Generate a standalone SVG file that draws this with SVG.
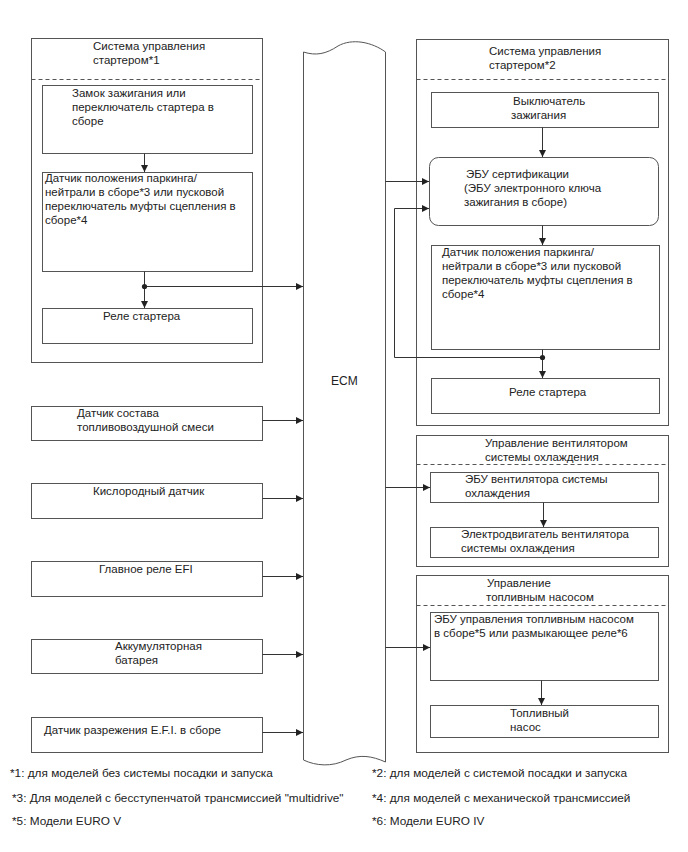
<svg xmlns="http://www.w3.org/2000/svg" width="688" height="852" viewBox="0 0 688 852">
<defs>
<marker id="ah" viewBox="0 0 10 10" refX="10" refY="5" markerWidth="8" markerHeight="7" markerUnits="userSpaceOnUse" orient="auto">
<path d="M0,0 L10,5 L0,10 Z" fill="#222"/>
</marker>
</defs>
<style>
text{font-family:"Liberation Sans",Arial,sans-serif;font-size:11.5px;fill:#222}
.b{fill:#fff;stroke:#555;stroke-width:1}
.d{stroke:#555;stroke-width:1;stroke-dasharray:4,3;fill:none}
.a{stroke:#333;stroke-width:1;fill:none;marker-end:url(#ah)}
.fn{font-size:11.8px}
</style>
<rect width="688" height="852" fill="#fff"/>

<g id="grp-starter1">
<rect class="b" x="31.5" y="38.5" width="231" height="324"/>
<line class="d" x1="31.5" y1="79.5" x2="262.5" y2="79.5"/>
<text x="93" y="50">Система управления</text>
<text x="93" y="64">стартером*1</text>
</g>
<g id="n-ignlock">
<rect class="b" x="42.5" y="85.5" width="210" height="68"/>
<text x="72" y="97">Замок зажигания или</text>
<text x="72" y="111">переключатель стартера в</text>
<text x="72" y="125">сборе</text>
</g>
<g id="n-pn1">
<rect class="b" x="42.5" y="172.5" width="210" height="99"/>
<text x="45" y="182">Датчик положения паркинга/</text>
<text x="45" y="196">нейтрали в сборе*3 или пусковой</text>
<text x="45" y="210">переключатель муфты сцепления в</text>
<text x="45" y="224">сборе*4</text>
</g>
<g id="n-relay1">
<rect class="b" x="42.5" y="308.5" width="210" height="35"/>
<text x="103" y="320">Реле стартера</text>
</g>

<g id="n-ecm">
<path class="b" d="M303.5,52 C316,56 326,54 338,46 C352,38 372,42 385.5,52 L385.5,762 C372,756 360,754 346,760 C332,767 316,766 303.5,760 Z"/>
<text x="331" y="385" style="font-size:12px">ECM</text>
</g>

<g id="n-afs">
<rect class="b" x="31.5" y="406.5" width="231" height="34"/>
<text x="77" y="417">Датчик состава</text>
<text x="77" y="431">топливовоздушной смеси</text>
</g>
<g id="n-o2">
<rect class="b" x="31.5" y="483.5" width="231" height="35"/>
<text x="93" y="495">Кислородный датчик</text>
</g>
<g id="n-efi">
<rect class="b" x="31.5" y="561.5" width="231" height="35"/>
<text x="99" y="573">Главное реле EFI</text>
</g>
<g id="n-batt">
<rect class="b" x="31.5" y="639.5" width="231" height="34"/>
<text x="115" y="650">Аккумуляторная</text>
<text x="115" y="664">батарея</text>
</g>
<g id="n-vac">
<rect class="b" x="31.5" y="717.5" width="231" height="35"/>
<text x="44" y="734">Датчик разрежения E.F.I. в сборе</text>
</g>

<g id="grp-starter2">
<rect class="b" x="416.5" y="39.5" width="252" height="386"/>
<line class="d" x1="416.5" y1="79.5" x2="668.5" y2="79.5"/>
<text x="489" y="55">Система управления</text>
<text x="489" y="69">стартером*2</text>
</g>
<g id="n-ignsw">
<rect class="b" x="431.5" y="92.5" width="227" height="35"/>
<text x="513" y="105">Выключатель</text>
<text x="511" y="119">зажигания</text>
</g>
<g id="n-certecu">
<rect class="b" x="429.5" y="157.5" width="229" height="68" rx="9"/>
<text x="466" y="178">ЭБУ сертификации</text>
<text x="464" y="192">(ЭБУ электронного ключа</text>
<text x="464" y="206">зажигания в сборе)</text>
</g>
<g id="n-pn2">
<rect class="b" x="431.5" y="245.5" width="228" height="104"/>
<text x="442" y="256">Датчик положения паркинга/</text>
<text x="442" y="270">нейтрали в сборе*3 или пусковой</text>
<text x="442" y="284">переключатель муфты сцепления в</text>
<text x="442" y="298">сборе*4</text>
</g>
<g id="n-relay2">
<rect class="b" x="431.5" y="378.5" width="228" height="35"/>
<text x="509" y="396">Реле стартера</text>
</g>

<g id="grp-fan">
<rect class="b" x="416.5" y="435.5" width="252" height="131"/>
<line class="d" x1="416.5" y1="464.5" x2="668.5" y2="464.5"/>
<text x="485" y="447">Управление вентилятором</text>
<text x="485" y="461">системы охлаждения</text>
</g>
<g id="n-fanecu">
<rect class="b" x="430.5" y="472.5" width="228" height="30"/>
<text x="465" y="483">ЭБУ вентилятора системы</text>
<text x="465" y="497">охлаждения</text>
</g>
<g id="n-fanmotor">
<rect class="b" x="430.5" y="527.5" width="228" height="30"/>
<text x="461" y="538">Электродвигатель вентилятора</text>
<text x="461" y="552">системы охлаждения</text>
</g>

<g id="grp-fuel">
<rect class="b" x="416.5" y="575.5" width="252" height="177"/>
<line class="d" x1="416.5" y1="605.5" x2="668.5" y2="605.5"/>
<text x="487" y="587">Управление</text>
<text x="486" y="601">топливным насосом</text>
</g>
<g id="n-fuelecu">
<rect class="b" x="430.5" y="612.5" width="228" height="68"/>
<text x="434" y="623">ЭБУ управления топливным насосом</text>
<text x="434" y="637">в сборе*5 или размыкающее реле*6</text>
</g>
<g id="n-pump">
<rect class="b" x="430.5" y="705.5" width="228" height="32"/>
<text x="510" y="717">Топливный</text>
<text x="510" y="731">насос</text>
</g>

<g id="connectors">
<line class="a" x1="144.5" y1="153.5" x2="144.5" y2="172"/>
<line class="a" x1="144.5" y1="271.5" x2="144.5" y2="308"/>
<line class="a" x1="144.5" y1="286.5" x2="303" y2="286.5"/>
<circle cx="144.5" cy="286.5" r="2.6" fill="#222"/>

<line class="a" x1="262.5" y1="420.5" x2="303" y2="420.5"/>
<line class="a" x1="262.5" y1="498.5" x2="303" y2="498.5"/>
<line class="a" x1="262.5" y1="576.5" x2="303" y2="576.5"/>
<line class="a" x1="262.5" y1="654.5" x2="303" y2="654.5"/>
<line class="a" x1="262.5" y1="732.5" x2="303" y2="732.5"/>

<line class="a" x1="542.5" y1="127.5" x2="542.5" y2="157"/>
<line class="a" x1="385.5" y1="181.5" x2="429" y2="181.5"/>
<polyline class="a" points="542.5,357.5 394.5,357.5 394.5,208.5 429,208.5"/>
<line class="a" x1="542.5" y1="225.5" x2="542.5" y2="245"/>
<line class="a" x1="542.5" y1="349.5" x2="542.5" y2="378"/>
<circle cx="542.5" cy="357.5" r="2.6" fill="#222"/>

<line class="a" x1="385.5" y1="487.5" x2="430" y2="487.5"/>
<line class="a" x1="543.5" y1="502.5" x2="543.5" y2="527"/>
<line class="a" x1="385.5" y1="647.5" x2="430" y2="647.5"/>
<line class="a" x1="541.5" y1="680.5" x2="541.5" y2="705"/>
</g>

<g id="footnotes">
<text class="fn" x="10" y="777">*1: для моделей без системы посадки и запуска</text>
<text class="fn" x="12" y="802">*3: Для моделей с бесступенчатой трансмиссией "multidrive"</text>
<text class="fn" x="12" y="825">*5: Модели EURO V</text>
<text class="fn" x="372" y="777">*2: для моделей с системой посадки и запуска</text>
<text class="fn" x="372" y="802">*4: для моделей с механической трансмиссией</text>
<text class="fn" x="372" y="825">*6: Модели EURO IV</text>
</g>
</svg>
